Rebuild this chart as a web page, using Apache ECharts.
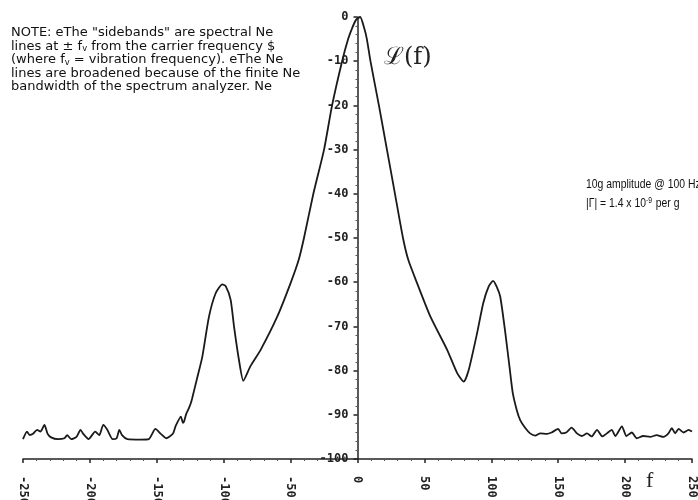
<!DOCTYPE html>
<html>
<head>
<meta charset="utf-8">
<script src="https://cdn.jsdelivr.net/npm/echarts@6/dist/echarts.min.js"></script>
<style>html,body{margin:0;padding:0;background:#fff}#c{width:698px;height:500px}</style>
</head>
<body>
<div id="c"></div>
<script>
// Frequency offset (Hz) and level (dB)
const freq = [-250,-247,-245,-242.5,-239.5,-237,-234,-231.6,-229,-224,-219,-217,-214,-210,-207,-205,-201,-196,-193,-190,-187,-183,-180,-178,-176,-172,-162,-156,-151,-147,-143,-138,-136,-132,-130.5,-129.6,-128,-126,-124.6,-123.6,-119.6,-116,-111,-106,-101,-98.5,-94.8,-92.3,-88.6,-85.3,-80,-72.4,-60,-50,-44,-40,-33,-25,-19,-11.5,-7,-4,-1,2,5,7,9.7,16,22,28,34,38,44.5,54.5,67,74.4,79.4,83,89.4,94,98,101.3,104,106.7,110.5,113.7,116,119,121.6,125.4,129,132.8,136.6,141.6,145,150,152.5,156,160,164,167.7,171.5,175,179,183,186.4,190,192.7,197.6,201,205,208.7,213.5,218.7,223.6,228.6,232.4,234.9,237.4,240,243.7,247.4,250];
const level = [-95.5,-93.8,-94.6,-94.3,-93.4,-93.8,-92.3,-94.3,-95.1,-95.5,-95.3,-94.6,-95.5,-95,-93.4,-94.3,-95.5,-93.8,-94.6,-92.3,-93.4,-95.5,-95.3,-93.4,-94.6,-95.5,-95.6,-95.5,-93.2,-94.3,-95.3,-94.3,-92.6,-90.4,-91.8,-91.5,-89.8,-88.5,-87.4,-86.3,-81.4,-76.9,-67.8,-62.5,-60.5,-60.9,-64,-70,-77.6,-82.3,-79,-75.3,-67.8,-60.2,-55,-50,-40,-30,-20,-10,-5,-2.5,-0.6,0,-2.5,-5,-10,-20,-30,-40,-50,-55,-60.2,-67.8,-75.3,-80.5,-82.5,-80,-71.5,-64.7,-61,-59.7,-61,-63.3,-71.5,-79.4,-85,-88.9,-91.2,-93,-94.2,-94.7,-94.2,-94.3,-94,-93.2,-94.2,-94,-92.9,-94.2,-94.8,-94.2,-94.9,-93.4,-94.9,-94.2,-93.4,-94.8,-92.6,-94.8,-94,-95.3,-94.8,-95,-94.6,-95,-94.2,-93,-94.2,-93.2,-94,-93.4,-93.8];
const xTicks = [-250,-200,-150,-100,-50,0,50,100,150,200,250];
const yTicks = [0,-10,-20,-30,-40,-50,-60,-70,-80,-90,-100];
const noteLines = [
  'NOTE: eThe "sidebands" are spectral Ne',
  'lines at \u00b1 {s|f}{sub|v} from the carrier frequency $',
  '(where {s|f}{sub|v} = vibration frequency). eThe Ne',
  'lines are broadened because of the finite Ne',
  'bandwidth of the spectrum analyzer. Ne'
];

const GL = 23, GR = 6, W = 698;
const plotW = W - GL - GR;
const xMin = xTicks[0], xMax = xTicks[xTicks.length - 1];
// shift the y axis (with its labels) to the f = 0 position of the x axis
const yOffset = -plotW * (0 - xMin) / (xMax - xMin);

const chart = echarts.init(document.getElementById('c'), null, {renderer: 'canvas'});
const mono = {fontFamily: 'DejaVu Sans Mono', fontWeight: 'bold', fontSize: 12, color: '#222'};
chart.setOption({
  backgroundColor: '#fff',
  animation: false,
  grid: {left: GL, right: GR, top: 17, bottom: 41, containLabel: false, outerBoundsMode: 'none'},
  xAxis: {
    type: 'value', min: xMin, max: xMax, interval: 50,
    axisLine: {onZero: false, lineStyle: {color: '#222', width: 1.5}},
    axisTick: {show: true, length: 4, lineStyle: {color: '#222', width: 1.5}},
    minorTick: {show: true, splitNumber: 5, length: 2, lineStyle: {color: '#555'}},
    splitLine: {show: false},
    axisLabel: Object.assign({rotate: -90, margin: 17, formatter: v => String(v)}, mono)
  },
  yAxis: {
    type: 'value', min: yTicks[yTicks.length - 1], max: yTicks[0], interval: 10,
    position: 'left', offset: yOffset,
    axisLine: {onZero: false, lineStyle: {color: '#222', width: 1.5}},
    axisTick: {show: true, length: 4, lineStyle: {color: '#222', width: 1.5}},
    minorTick: {show: true, splitNumber: 5, length: 2, lineStyle: {color: '#555'}},
    splitLine: {show: false},
    axisLabel: Object.assign({margin: 9, formatter: v => String(v)}, mono)
  },
  series: [{
    type: 'line',
    data: freq.map((f, i) => [f, level[i]]),
    showSymbol: false,
    smooth: 0.2,
    lineStyle: {color: '#1a1a1a', width: 1.8}
  }],
  graphic: [
    {
      type: 'text', x: 11, y: 26, scaleX: 1.04,
      style: {
        text: noteLines.join('\n'),
        font: '12.5px "DejaVu Sans", sans-serif',
        fill: '#111', lineHeight: 13.5,
        rich: {
          s: {fontSize: 12.5, fontFamily: 'DejaVu Sans', fill: '#111'},
          sub: {fontSize: 8, fontFamily: 'DejaVu Sans', fill: '#111', verticalAlign: 'bottom', padding: [6, 0, 0, 0]}
        }
      }
    },
    {
      type: 'text', x: 384, y: 46,
      style: {text: '\u2112(f)', font: '24px "DejaVu Serif", serif', fill: '#222'}
    },
    {
      type: 'text', x: 586, y: 178, scaleX: 0.8,
      style: {text: '10g amplitude @ 100 Hz', font: '13px "Liberation Sans", Arial, sans-serif', fill: '#111'}
    },
    {
      type: 'text', x: 586, y: 196, scaleX: 0.8,
      style: {
        text: '|\u0393| = 1.4 x 10{sup|-9} per g',
        font: '13px "Liberation Sans", Arial, sans-serif', fill: '#111',
        rich: {sup: {fontSize: 8.5, fontFamily: 'Liberation Sans', fill: '#111', verticalAlign: 'top', padding: [0, 1, 6, 0]}}
      }
    },
    {
      type: 'text', x: 646, y: 470,
      style: {text: 'f', font: '22px "Liberation Serif", serif', fill: '#222'}
    }
  ]
});
</script>
</body>
</html>
